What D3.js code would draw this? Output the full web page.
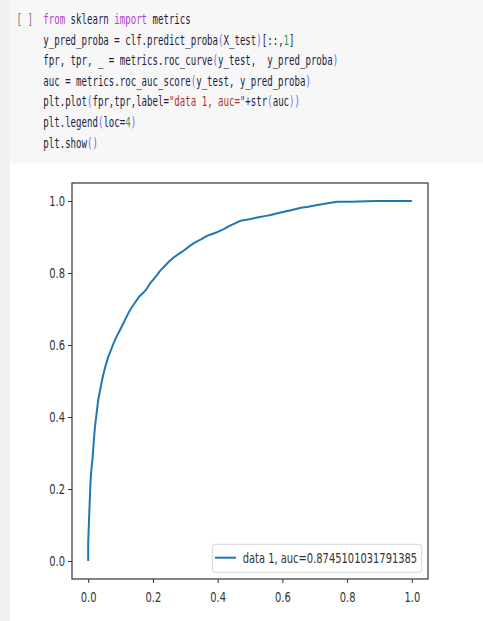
<!DOCTYPE html>
<html>
<head>
<meta charset="utf-8">
<script src="https://cdn.jsdelivr.net/npm/d3@7"></script>
<style>
html,body{margin:0;padding:0;background:#fff;}
svg{display:block;}
</style>
</head>
<body>
<svg id="c" width="483" height="621"></svg>
<script>
// ---- data ----
const fpr = [0,0.000,0.002,0.003,0.005,0.007,0.010,0.014,0.017,0.021,0.026,0.031,0.038,0.045,0.053,0.062,0.070,0.078,0.088,0.098,0.104,0.115,0.125,0.135,0.145,0.158,0.170,0.181,0.192,0.205,0.215,0.222,0.235,0.250,0.264,0.280,0.298,0.315,0.332,0.350,0.367,0.385,0.400,0.419,0.435,0.452,0.470,0.490,0.502,0.522,0.545,0.564,0.585,0.605,0.630,0.657,0.680,0.708,0.740,0.770,0.812,0.860,0.895,0.950,1.000];
const tpr = [0,0.050,0.100,0.124,0.170,0.217,0.255,0.290,0.330,0.373,0.410,0.447,0.480,0.511,0.540,0.567,0.585,0.604,0.624,0.641,0.652,0.672,0.690,0.705,0.718,0.735,0.745,0.756,0.772,0.786,0.797,0.806,0.818,0.832,0.843,0.853,0.864,0.876,0.886,0.894,0.903,0.909,0.914,0.922,0.930,0.937,0.945,0.948,0.950,0.954,0.958,0.961,0.966,0.970,0.975,0.981,0.984,0.989,0.994,0.998,0.998,0.999,1.000,1.000,1.000];
const xTicks = [0.0,0.2,0.4,0.6,0.8,1.0];
const yTicks = [0.0,0.2,0.4,0.6,0.8,1.0];
const legendLabel = "data 1, auc=0.8745101031791385";
const codeLines = [
  [["from","kw"],[" sklearn ","tx"],["import","kw"],[" metrics","tx"]],
  [["y_pred_proba = clf.predict_proba","tx"],["(","p"],["X_test","tx"],[")","p"],["[::,","tx"],["1","num"],["]","tx"]],
  [["fpr, tpr, _ = metrics.roc_curve","tx"],["(","p"],["y_test,  y_pred_proba","tx"],[")","p"]],
  [["auc = metrics.roc_auc_score","tx"],["(","p"],["y_test, y_pred_proba","tx"],[")","p"]],
  [["plt.plot","tx"],["(","p"],["fpr,tpr,label=","tx"],["\"data 1, auc=\"","str"],["+str","tx"],["(","p2"],["auc","tx"],[")","p2"],[")","p"]],
  [["plt.legend","tx"],["(","p"],["loc=","tx"],["4","num"],[")","p"]],
  [["plt.show","tx"],["()","p"]]
];
const codeColors = {kw:"#b03fd0", tx:"#1c1c40", p:"#5e6fe6", p2:"#8a6fd8", num:"#2f9a62", str:"#b0302a"};

const svg = d3.select("#c");

// ---- page background ----
svg.append("rect").attr("x",0).attr("y",0).attr("width",483).attr("height",163).attr("fill","#f7f7f7");
svg.append("rect").attr("x",0).attr("y",0).attr("width",10).attr("height",621).attr("fill","#f1f1f1");

// ---- code cell ----
const mono = "'DejaVu Sans Mono', 'Liberation Mono', monospace";
const charW = 5.46, codeFs = 13.5, sxCode = charW/(0.602*codeFs);
const bracket = svg.append("text")
  .attr("transform",`translate(16.5,24) scale(${sxCode},1)`)
  .attr("font-family",mono).attr("font-size",codeFs).attr("fill","#777")
  .attr("xml:space","preserve").text("[ ]");
codeLines.forEach((line,i)=>{
  const t = svg.append("text")
    .attr("transform",`translate(43.3,${24+i*20.6}) scale(${sxCode},1)`)
    .attr("font-family",mono).attr("font-size",codeFs)
    .attr("xml:space","preserve").style("white-space","pre");
  line.forEach(([s,c])=>{
    t.append("tspan").attr("fill",codeColors[c]).text(s);
  });
});

// ---- chart ----
const L=72, R=428, T=183, B=579;
const x = d3.scaleLinear().domain([-0.05,1.05]).range([L,R]);
const y = d3.scaleLinear().domain([-0.05,1.05]).range([B,T]);
const sans = "'DejaVu Sans', sans-serif";
const fs = 13.5, sx = 0.735;

// curve
const pts = fpr.map((f,i)=>[f,tpr[i]]);
svg.append("path").datum(pts)
  .attr("fill","none").attr("stroke","#1f77b4").attr("stroke-width",2)
  .attr("stroke-linejoin","round").attr("stroke-linecap","butt")
  .attr("d", d3.line().x(d=>x(d[0])).y(d=>y(d[1])));

// axes
const gx = svg.append("g").attr("transform",`translate(0,${B})`)
  .call(d3.axisBottom(x).tickValues(xTicks).tickFormat(d3.format(".1f")).tickSize(4).tickSizeOuter(0));
const gy = svg.append("g").attr("transform",`translate(${L},0)`)
  .call(d3.axisLeft(y).tickValues(yTicks).tickFormat(d3.format(".1f")).tickSize(4).tickSizeOuter(0));
[gx,gy].forEach(g=>{
  g.select(".domain").remove();
  g.selectAll(".tick line").attr("stroke","#333").attr("stroke-width",1);
  g.selectAll("text").attr("font-family",sans).attr("font-size",fs).attr("fill","#333");
});
gx.selectAll("text").attr("y",23.3).attr("dy",null).attr("transform",`scale(${sx},1)`);
gy.selectAll("text").attr("x",-7/sx).attr("transform",`scale(${sx},1)`).attr("dy","0.36em");

// frame
svg.append("rect").attr("x",L).attr("y",T).attr("width",R-L).attr("height",B-T)
  .attr("fill","none").attr("stroke","#333").attr("stroke-width",1.2);

// legend
const lg = svg.append("g");
lg.append("rect").attr("x",212.3).attr("y",544.3).attr("width",209.4).attr("height",28)
  .attr("rx",2.5).attr("fill","#fff").attr("fill-opacity",0.8).attr("stroke","#d6d6d6").attr("stroke-width",1);
lg.append("line").attr("x1",215).attr("x2",236).attr("y1",557.7).attr("y2",557.7)
  .attr("stroke","#1f77b4").attr("stroke-width",2);
lg.append("text").attr("transform",`translate(242.7,562.6) scale(${sx},1)`)
  .attr("font-family",sans).attr("font-size",fs).attr("fill","#333").text(legendLabel);
</script>
</body>
</html>
